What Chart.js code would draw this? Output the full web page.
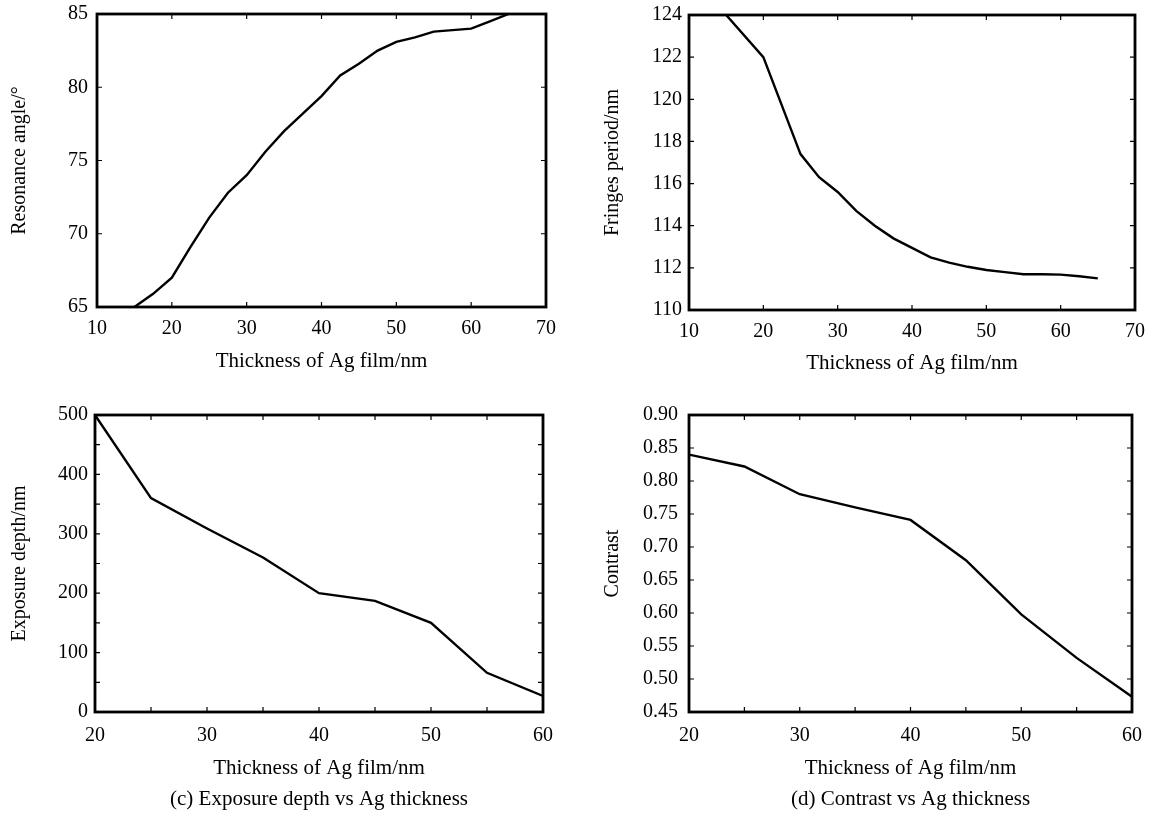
<!DOCTYPE html>
<html>
<head>
<meta charset="utf-8">
<script src="https://cdn.jsdelivr.net/npm/chart.js@4.4.0/dist/chart.umd.min.js"></script>
<style>
  html, body { margin: 0; padding: 0; background: #fff; }
  #wrap { position: relative; width: 1154px; height: 816px; }
  canvas { position: absolute; }
</style>
</head>
<body>
<div id="wrap">
  <canvas id="chartA" width="577" height="390" style="left:0;top:0"></canvas>
  <canvas id="chartB" width="577" height="390" style="left:577px;top:0"></canvas>
  <canvas id="chartC" width="577" height="421" style="left:0;top:395px"></canvas>
  <canvas id="chartD" width="577" height="421" style="left:577px;top:395px"></canvas>
</div>
<script>
// (a) resonance angle
const thicknessA = [15, 17.5, 20, 22.5, 25, 27.5, 30, 32.5, 35, 37.5, 40, 42.5, 45, 47.5, 50, 52.5, 55, 57.5, 60, 62.5, 65];
const resonanceAngle = [65, 65.9, 67, 69.1, 71.1, 72.8, 74.0, 75.6, 77.0, 78.2, 79.4, 80.8, 81.6, 82.5, 83.1, 83.4, 83.8, 83.9, 84.0, 84.5, 85];

// (b) fringes period
const thicknessB = [15, 20, 25, 27.5, 30, 32.5, 35, 37.5, 40, 42.5, 45, 47.5, 50, 52.5, 55, 57.5, 60, 62.5, 65];
const fringesPeriod = [124, 122, 117.4, 116.3, 115.6, 114.7, 114.0, 113.4, 112.95, 112.5, 112.25, 112.05, 111.9, 111.8, 111.7, 111.7, 111.68, 111.6, 111.5];

// (c) exposure depth
const thicknessC = [20, 25, 30, 35, 40, 45, 50, 55, 60];
const exposureDepth = [500, 360, 309, 260, 200, 187, 150, 66, 27];

// (d) contrast
const thicknessD = [20, 25, 30, 35, 40, 45, 50, 55, 60];
const contrast = [0.84, 0.822, 0.78, 0.76, 0.741, 0.68, 0.598, 0.532, 0.473];

const xTitle = 'Thickness of Ag film/nm';
const fontFamily = '"Liberation Serif", "Times New Roman", serif';

Chart.defaults.font.family = fontFamily;
Chart.defaults.color = '#000';

// box round the plot area with inward ticks on all four sides
const frameTicks = {
    id: 'frameTicks',
    afterDatasetsDraw(chart) {
        const { ctx, chartArea: a, scales: { x, y } } = chart;
        ctx.save();
        ctx.strokeStyle = '#000';
        ctx.lineWidth = 1.2;
        ctx.beginPath();
        x.ticks.forEach(t => {
            const px = x.getPixelForValue(t.value);
            ctx.moveTo(px, a.bottom); ctx.lineTo(px, a.bottom - 5);
            ctx.moveTo(px, a.top); ctx.lineTo(px, a.top + 5);
        });
        y.ticks.forEach(t => {
            const py = y.getPixelForValue(t.value);
            ctx.moveTo(a.left, py); ctx.lineTo(a.left + 5, py);
            ctx.moveTo(a.right, py); ctx.lineTo(a.right - 5, py);
        });
        ctx.stroke();
        ctx.lineWidth = 2.8;
        ctx.strokeRect(a.left, a.top, a.right - a.left, a.bottom - a.top);
        ctx.restore();
    }
};

function makeChart(id, xs, ys, p) {
    const points = xs.map((v, i) => ({ x: v, y: ys[i] }));
    new Chart(document.getElementById(id), {
        type: 'line',
        data: {
            datasets: [{
                data: points,
                borderColor: '#000',
                borderWidth: 2.4,
                pointRadius: 0,
                tension: 0,
                fill: false
            }]
        },
        options: {
            responsive: false,
            animation: false,
            layout: { padding: { left: 0, top: p.top, right: p.right, bottom: 0 } },
            plugins: {
                legend: { display: false },
                tooltip: { enabled: false },
                title: {
                    display: !!p.caption,
                    text: p.caption || '',
                    position: 'bottom',
                    fullSize: false,
                    font: { size: 21, weight: 'normal' },
                    color: '#000',
                    padding: { top: 0, bottom: 4.4 }
                }
            },
            scales: {
                x: {
                    type: 'linear',
                    min: p.xMin, max: p.xMax,
                    grid: { display: false, drawTicks: false },
                    border: { display: false },
                    ticks: {
                        stepSize: p.xStep,
                        padding: p.xPad,
                        font: { size: 20 },
                        callback: v => (p.xLabelEvery && v % p.xLabelEvery !== 0) ? '' : v
                    },
                    title: {
                        display: true, text: xTitle,
                        font: { size: 21 },
                        padding: { top: 0, bottom: p.xTitlePad }
                    },
                    afterFit: s => {
                        s.height = p.xHeight;
                        s.paddingLeft = 0;
                        s.paddingRight = 0;
                    }
                },
                y: {
                    min: p.yMin, max: p.yMax,
                    grid: { display: false, drawTicks: false },
                    border: { display: false },
                    ticks: {
                        stepSize: p.yStep,
                        padding: p.yPad,
                        font: { size: 20 },
                        callback: p.yFormat
                    },
                    title: {
                        display: true, text: p.yTitle,
                        font: { size: 20 },
                        padding: { top: p.yTitlePad, bottom: 0 }
                    },
                    afterFit: s => {
                        s.width = p.left;
                        s.paddingTop = 0;
                        s.paddingBottom = 0;
                    }
                }
            }
        },
        plugins: [frameTicks]
    });
}

makeChart('chartA', thicknessA, resonanceAngle, {
    top: 14, right: 31, left: 97, xHeight: 83,
    xMin: 10, xMax: 70, xStep: 10, xPad: 10, xTitlePad: 16,
    yMin: 65, yMax: 85, yStep: 5, yPad: 9, yTitlePad: 8,
    yTitle: 'Resonance angle/°',
    yFormat: v => v
});

makeChart('chartB', thicknessB, fringesPeriod, {
    top: 15, right: 19, left: 112, xHeight: 80,
    xMin: 10, xMax: 70, xStep: 10, xPad: 10, xTitlePad: 14,
    yMin: 110, yMax: 124, yStep: 2, yPad: 7, yTitlePad: 24,
    yTitle: 'Fringes period/nm',
    yFormat: v => v
});

makeChart('chartC', thicknessC, exposureDepth, {
    top: 20, right: 34, left: 95, xHeight: 74.4,
    xMin: 20, xMax: 60, xStep: 5, xLabelEvery: 10, xPad: 12, xTitlePad: 5,
    yMin: 0, yMax: 500, yStep: 50, yPad: 7, yTitlePad: 8,
    yTitle: 'Exposure depth/nm',
    yFormat: v => (v % 100 === 0 ? v : ''),
    caption: '(c) Exposure depth vs Ag thickness'
});

makeChart('chartD', thicknessD, contrast, {
    top: 20, right: 22, left: 112, xHeight: 74.4,
    xMin: 20, xMax: 60, xStep: 5, xLabelEvery: 10, xPad: 12, xTitlePad: 5,
    yMin: 0.45, yMax: 0.9, yStep: 0.05, yPad: 11, yTitlePad: 24,
    yTitle: 'Contrast',
    yFormat: v => v.toFixed(2),
    caption: '(d) Contrast vs Ag thickness'
});
</script>
</body>
</html>
